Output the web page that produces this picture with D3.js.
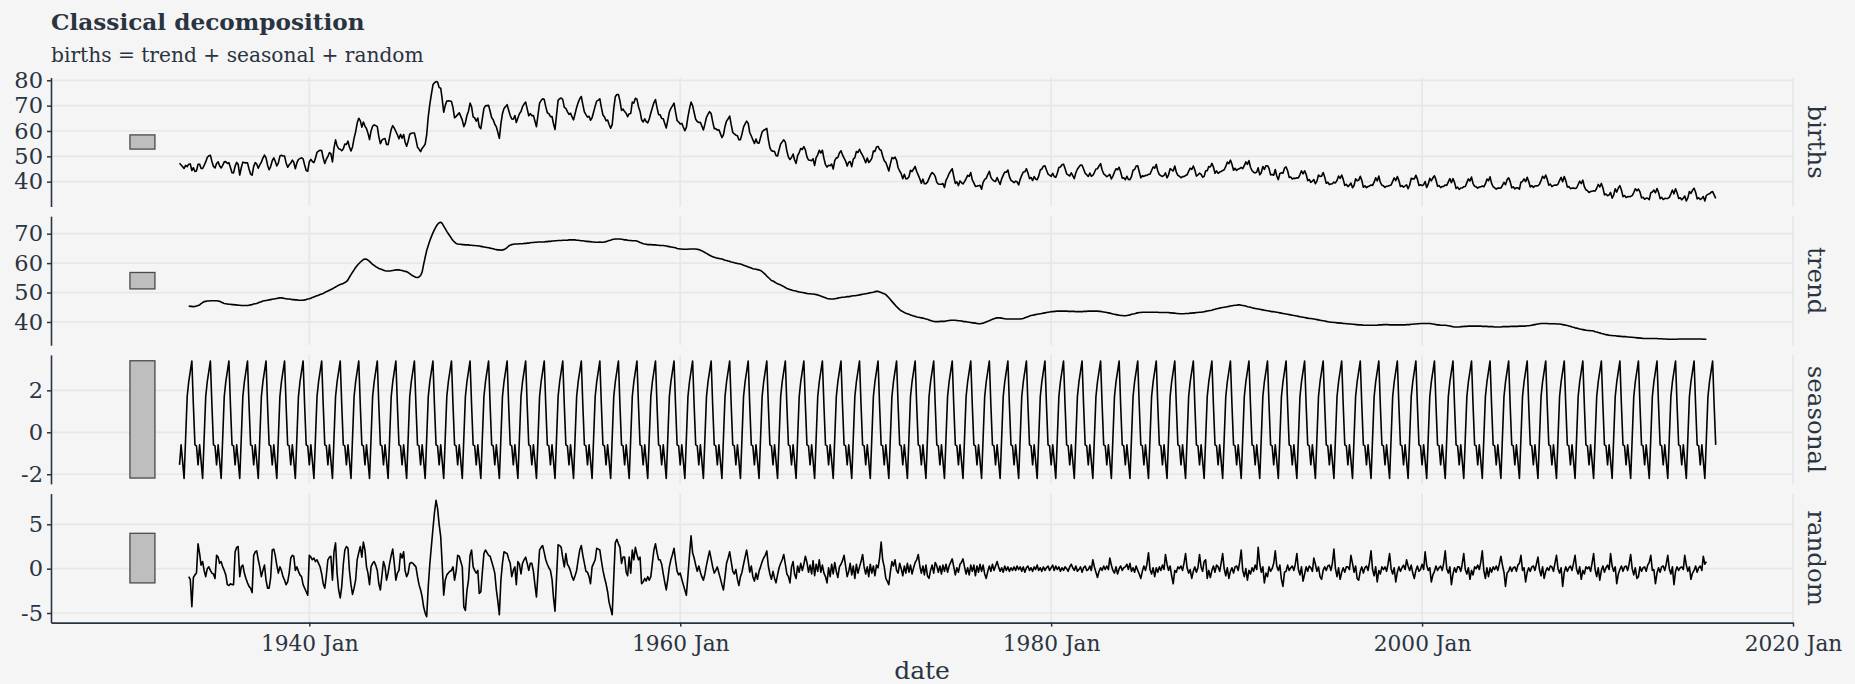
<!DOCTYPE html>
<html>
<head>
<meta charset="utf-8">
<script src="https://cdn.jsdelivr.net/npm/d3@7"></script>
<style>
  html, body { margin: 0; padding: 0; background: #f5f5f5; }
  svg { display: block; font-family: "DejaVu Serif", serif; }
</style>
</head>
<body>
<svg id="svg" width="1855" height="684"></svg>
<script>
// monthly series start Jan 1933, last month Nov 2015
const firstYear = 1933;
const monthCount = 995;

// seasonal component, Jan..Dec (repeats every year)
const seasonalMonths = [-1.55, -0.6, -1.35, -2.2, -0.3, 1.7, 2.4, 2.9, 3.4, 1.3, -0.6, -0.65];

// trend, Jul 1933 .. May 2015 (one row per year)
const trendRows = [
  [45.4,45.3,45.3,45.2,45.3,45.4],
  [45.6,45.8,46.2,46.6,46.9,47.0,47.1,47.1,47.2,47.2,47.2,47.2],
  [47.2,47.1,47.0,46.8,46.5,46.3,46.2,46.1,46.0,46.0,45.9,45.9],
  [45.8,45.8,45.7,45.7,45.6,45.6,45.6,45.6,45.6,45.7,45.8,45.9],
  [46.1,46.2,46.3,46.5,46.7,46.9,47.1,47.2,47.3,47.4,47.5,47.6],
  [47.7,47.8,47.9,48.0,48.1,48.2,48.2,48.1,48.0,47.9,47.8,47.8],
  [47.7,47.6,47.6,47.5,47.5,47.4,47.4,47.4,47.4,47.5,47.6,47.8],
  [47.9,48.1,48.3,48.5,48.7,48.9,49.1,49.3,49.5,49.7,50.0,50.3],
  [50.5,50.8,51.0,51.3,51.6,51.9,52.2,52.5,52.7,52.9,53.1,53.4],
  [53.7,54.3,55.2,56.1,56.9,57.7,58.5,59.2,59.8,60.3,60.8,61.2],
  [61.4,61.3,61.0,60.6,60.1,59.6,59.2,58.8,58.5,58.2,58.0,57.8],
  [57.6,57.4,57.3,57.3,57.3,57.4,57.5,57.6,57.7,57.7,57.7,57.6],
  [57.5,57.3,57.2,57.1,56.8,56.4,56.0,55.7,55.4,55.2,55.1,55.3],
  [55.8,57.0,59.5,62.0,64.3,66.0,67.6,69.0,70.3,71.4,72.4,73.2],
  [73.7,73.9,73.5,72.6,71.7,70.8,70.0,69.2,68.4,67.7,67.1,66.7],
  [66.5,66.4,66.4,66.3,66.3,66.2,66.2,66.2,66.1,66.1,66.0,66.0],
  [65.9,65.9,65.8,65.7,65.6,65.5,65.4,65.3,65.2,65.1,65.0,64.9],
  [64.7,64.6,64.5,64.5,64.4,64.5,64.6,64.9,65.3,65.8,66.1,66.3],
  [66.4,66.5,66.5,66.5,66.6,66.6,66.6,66.7,66.7,66.8,66.8,66.9],
  [67.0,67.0,67.1,67.1,67.2,67.2,67.2,67.2,67.2,67.3,67.3,67.4],
  [67.4,67.5,67.5,67.6,67.6,67.7,67.7,67.7,67.8,67.8,67.8,67.8],
  [67.9,67.9,67.9,67.9,67.9,67.8,67.8,67.7,67.6,67.6,67.5,67.4],
  [67.4,67.3,67.3,67.2,67.2,67.1,67.1,67.1,67.2,67.1,67.1,67.2],
  [67.3,67.5,67.7,67.8,68.0,68.1,68.2,68.2,68.2,68.2,68.1,68.0],
  [67.9,67.9,67.8,67.7,67.7,67.6,67.6,67.6,67.5,67.3,67.0,66.8],
  [66.6,66.5,66.4,66.3,66.3,66.3,66.2,66.2,66.2,66.1,66.1,66.0],
  [66.0,66.0,65.9,65.8,65.7,65.6,65.5,65.4,65.3,65.2,65.0,64.9],
  [64.8,64.8,64.7,64.7,64.7,64.7,64.8,64.8,64.8,64.8,64.8,64.7],
  [64.6,64.4,64.2,63.9,63.6,63.3,63.0,62.7,62.4,62.2,62.0,61.8],
  [61.7,61.6,61.5,61.4,61.2,61.0,60.9,60.7,60.6,60.4,60.3,60.1],
  [60.0,59.9,59.8,59.7,59.5,59.3,59.1,58.9,58.7,58.5,58.3,58.1],
  [58.0,57.9,57.8,57.7,57.5,57.1,56.7,56.2,55.6,55.1,54.6,54.1],
  [53.9,53.6,53.3,53.0,52.8,52.6,52.3,52.0,51.7,51.4,51.2,51.0],
  [50.9,50.7,50.6,50.5,50.3,50.2,50.1,50.0,49.9,49.8,49.7,49.6],
  [49.6,49.5,49.5,49.4,49.3,49.2,49.0,48.8,48.6,48.4,48.2,48.0],
  [47.9,47.8,47.8,47.8,47.9,48.0,48.1,48.2,48.3,48.4,48.4,48.5],
  [48.6,48.6,48.7,48.8,48.9,48.9,49.0,49.1,49.2,49.3,49.4,49.5],
  [49.6,49.7,49.8,49.9,50.0,50.1,50.3,50.4,50.4,50.2,50.0,49.8],
  [49.6,49.3,48.8,48.2,47.6,47.0,46.4,45.8,45.2,44.7,44.2,43.8],
  [43.5,43.2,43.0,42.8,42.6,42.4,42.2,42.0,41.9,41.7,41.6,41.5],
  [41.4,41.3,41.2,41.0,40.9,40.7,40.5,40.3,40.2,40.1,40.1,40.1],
  [40.2,40.2,40.2,40.2,40.3,40.4,40.5,40.6,40.6,40.6,40.6,40.5],
  [40.4,40.4,40.3,40.2,40.1,40.1,40.0,39.9,39.8,39.7,39.7,39.6],
  [39.5,39.4,39.4,39.5,39.6,39.8,40.0,40.2,40.4,40.7,40.9,41.1],
  [41.3,41.4,41.4,41.4,41.3,41.2,41.1,41.0,41.0,41.0,41.0,41.0],
  [41.0,41.0,41.0,41.0,41.0,41.1,41.2,41.4,41.6,41.8,42.0,42.2],
  [42.3,42.4,42.5,42.6,42.7,42.8,42.9,43.0,43.1,43.2,43.3,43.4],
  [43.5,43.5,43.6,43.6,43.7,43.7,43.7,43.7,43.7,43.7,43.7,43.6],
  [43.6,43.6,43.6,43.6,43.5,43.5,43.5,43.5,43.5,43.6,43.6,43.6],
  [43.7,43.7,43.7,43.7,43.7,43.7,43.7,43.6,43.6,43.5,43.4,43.3],
  [43.2,43.1,43.0,42.9,42.7,42.6,42.5,42.4,42.3,42.2,42.2,42.1],
  [42.1,42.2,42.3,42.4,42.6,42.7,42.8,43.0,43.1,43.2,43.2,43.3],
  [43.3,43.3,43.3,43.3,43.3,43.3,43.3,43.3,43.3,43.3,43.2,43.2],
  [43.2,43.2,43.2,43.2,43.2,43.1,43.1,43.0,43.0,42.9,42.9,42.8],
  [42.8,42.8,42.8,42.9,42.9,42.9,43.0,43.0,43.1,43.1,43.2,43.2],
  [43.3,43.3,43.4,43.5,43.6,43.7,43.8,43.9,44.0,44.2,44.3,44.5],
  [44.6,44.7,44.8,44.9,45.0,45.1,45.2,45.3,45.4,45.5,45.6,45.7],
  [45.7,45.8,45.8,45.7,45.6,45.5,45.4,45.2,45.1,45.0,44.8,44.7],
  [44.6,44.5,44.4,44.3,44.2,44.1,44.0,43.9,43.8,43.7,43.6,43.5],
  [43.5,43.4,43.3,43.2,43.1,43.0,42.9,42.8,42.7,42.6,42.5,42.4],
  [42.3,42.2,42.1,42.0,41.9,41.8,41.7,41.6,41.5,41.4,41.3,41.2],
  [41.2,41.1,41.0,40.9,40.8,40.7,40.6,40.5,40.4,40.3,40.2,40.1],
  [40.0,39.9,39.9,39.8,39.8,39.7,39.7,39.6,39.6,39.5,39.5,39.4],
  [39.4,39.3,39.3,39.2,39.2,39.1,39.1,39.0,39.0,39.0,38.9,38.9],
  [38.9,38.9,38.9,38.9,38.9,38.9,38.9,38.9,39.0,39.0,39.0,39.1],
  [39.1,39.1,39.1,39.0,39.0,39.0,39.0,39.0,39.0,39.0,39.0,39.0],
  [39.0,39.0,39.1,39.1,39.1,39.2,39.2,39.3,39.3,39.4,39.4,39.5],
  [39.5,39.5,39.5,39.5,39.5,39.5,39.4,39.3,39.2,39.1,39.0,39.0],
  [38.9,38.9,38.9,38.9,38.8,38.7,38.6,38.5,38.4,38.3,38.3,38.3],
  [38.3,38.4,38.4,38.5,38.5,38.5,38.6,38.6,38.6,38.6,38.6,38.6],
  [38.6,38.6,38.6,38.5,38.5,38.5,38.5,38.4,38.4,38.4,38.4,38.3],
  [38.3,38.3,38.3,38.3,38.4,38.4,38.4,38.4,38.4,38.5,38.5,38.5],
  [38.5,38.5,38.5,38.6,38.6,38.6,38.6,38.6,38.7,38.7,38.8,38.9],
  [39.0,39.1,39.2,39.3,39.4,39.5,39.5,39.5,39.5,39.5,39.4,39.4],
  [39.4,39.4,39.4,39.3,39.3,39.3,39.2,39.1,39.0,38.9,38.8,38.6],
  [38.5,38.3,38.2,38.0,37.9,37.8,37.6,37.5,37.4,37.3,37.2,37.1],
  [37.1,37.0,37.0,36.9,36.7,36.6,36.4,36.3,36.1,36.0,35.8,35.7],
  [35.6,35.5,35.4,35.4,35.3,35.3,35.2,35.2,35.1,35.1,35.0,35.0],
  [35.0,34.9,34.9,34.8,34.8,34.7,34.7,34.6,34.6,34.5,34.5,34.4],
  [34.4,34.4,34.4,34.4,34.4,34.4,34.4,34.4,34.4,34.3,34.3,34.3],
  [34.2,34.2,34.2,34.1,34.1,34.1,34.1,34.1,34.1,34.1,34.2,34.2],
  [34.2,34.2,34.2,34.2,34.2,34.2,34.2,34.2,34.2,34.2,34.2,34.2],
  [34.2,34.2,34.1,34.1,34.1]
];

// random component, same months as the trend
const randomRows = [
  [-0.9,-1.2,-4.3,-1.0,-0.7,-0.5],
  [2.8,1.7,0.4,0.8,-0.2,-0.9,0.0,0.2,-0.2,-0.5,-0.6,-1.1],
  [1.5,1.3,0.6,0.8,0.2,-0.2,-0.7,-1.8,-1.9,-1.7,-1.8,-1.8],
  [1.9,2.4,2.5,-0.9,0.2,0.4,-0.5,-1.1,-1.6,-2.0,-2.2,-2.7],
  [1.5,1.9,2.0,1.0,0.2,-0.9,-0.2,0.4,-1.3,-2.2,-2.2,-1.0],
  [2.1,2.2,1.5,0.4,-0.5,0.2,-0.2,-0.9,-1.3,-1.8,-1.5,-0.5],
  [1.2,1.5,1.4,-0.2,0.2,-0.3,-0.7,-0.9,-1.8,-2.2,-2.6,-3.0],
  [1.5,1.3,1.0,1.2,0.8,1.0,0.6,0.2,-0.6,-1.7,-2.2,-0.8],
  [1.0,1.3,1.4,-1.3,1.9,2.9,-0.5,-2.4,-3.3,-2.0,0.5,2.1],
  [2.5,2.3,-0.2,-1.8,-2.9,-2.2,-1.3,1.0,1.8,2.5,1.3,3.0],
  [2.1,0.2,-0.5,-1.8,0.2,0.6,0.8,0.4,-0.2,-1.7,-2.4,-0.8],
  [0.8,0.2,-1.3,-0.5,0.6,1.5,2.2,0.6,-1.3,-0.5,-0.2,1.7],
  [1.2,1.9,-0.2,-0.9,-0.5,0.6,0.7,0.6,0.4,0.2,-0.9,-1.8],
  [-2.4,-3.2,-4.3,-5.0,-5.4,-2.0,0.5,2.5,4.5,6.3,7.7,6.8],
  [5.0,3.6,0.6,-3.0,-1.3,-0.7,-0.5,-0.3,-0.2,0.2,-1.3,-0.3],
  [1.5,1.4,0.8,0.2,-4.3,-4.7,-2.5,-1.3,1.5,2.1,0.2,-0.2],
  [-0.5,-0.2,-2.8,-2.6,-0.4,1.7,2.1,1.8,1.5,1.4,0.8,0.2],
  [-0.5,-2.4,-3.6,-5.2,-1.3,0.6,1.9,1.8,1.7,1.1,0.6,-0.9],
  [-0.2,0.2,-1.8,0.8,0.5,-0.6,0.6,1.0,1.3,0.6,-0.2,0.6],
  [0.6,-0.3,-1.8,-3.2,-0.5,2.1,2.4,2.6,1.8,1.0,0.5,0.1],
  [-0.2,-1.2,-3.2,-4.8,-1.0,2.7,2.6,2.4,1.2,0.2,1.7,0.5],
  [0.2,-0.3,-0.9,-1.3,-0.8,-0.2,1.0,2.1,2.6,1.5,0.6,-0.3],
  [-0.4,-0.9,-1.7,0.2,0.6,1.0,2.3,2.2,2.1,0.9,-0.2,-1.0],
  [-1.7,-2.6,-3.8,-4.5,-5.2,-1.0,2.9,3.3,2.8,2.4,0.6,1.3],
  [1.3,-0.4,-0.8,1.3,-0.5,2.1,1.0,2.4,1.6,1.0,1.3,-1.7],
  [-1.5,-1.1,-1.4,-0.9,-1.3,-0.9,0.6,2.1,2.8,1.8,1.0,1.0],
  [0.5,-0.6,-1.5,-2.4,-1.2,0.2,1.0,1.6,2.3,0.9,-0.3,-0.7],
  [-0.5,-1.2,-1.8,-2.4,-3.0,-0.8,1.5,3.7,1.8,1.2,0.4,-0.3],
  [0.3,-0.4,-0.9,-1.3,-0.6,0.4,1.2,2.0,1.1,0.2,-0.5,-0.2],
  [0.2,-0.5,-1.1,-1.8,-2.4,-0.9,0.6,1.2,1.9,0.8,-0.3,-0.6],
  [-0.1,-1.2,-1.9,-0.9,-0.4,0.5,1.3,2.1,0.9,-0.4,0.3,-0.9],
  [-1.4,-0.5,-1.2,-0.3,0.2,0.8,1.2,1.5,2.0,0.3,-0.6,-1.2],
  [-0.3,-1.1,-1.6,-0.7,0.1,0.6,1.0,1.6,0.5,-0.6,-0.9,-1.6],
  [0.2,0.8,-0.6,-1.1,0.3,-0.4,0.6,-0.2,0.5,1.4,0.7,-0.4],
  [0.4,-0.6,0.9,-0.8,0.5,-0.3,1.0,-0.4,0.4,-0.5,-0.9,-1.6],
  [0.1,-0.9,0.5,-0.6,0.7,-0.3,-1.0,0.2,0.5,0.9,1.5,0.3],
  [-0.9,-0.3,0.6,-0.7,0.3,-1.1,0.5,-0.5,0.2,0.8,1.6,0.2],
  [-0.6,0.2,-0.9,0.5,-0.5,0.3,-0.8,0.4,0.1,1.2,3.0,1.0],
  [0.2,-1.1,-1.4,-1.8,-0.4,0.8,0.3,1.0,-0.2,-0.5,0.6,0.0],
  [-0.8,0.3,-0.5,0.6,-0.4,0.4,-0.6,0.1,0.7,1.0,1.6,0.3],
  [-0.5,0.3,-0.7,0.4,-0.8,-1.1,-0.2,0.4,-0.5,0.7,0.3,-0.4],
  [0.3,-0.6,0.4,-0.3,0.5,-0.4,0.3,0.7,1.1,0.2,-0.7,0.1],
  [-0.4,0.5,0.7,1.1,0.2,-0.6,0.1,-0.7,0.4,-0.3,0.4,-0.8],
  [0.3,-0.4,0.5,-0.3,0.4,-0.6,-1.1,-0.3,0.3,-0.3,0.5,-0.2],
  [0.3,0.8,0.2,-0.3,0.1,-0.4,0.3,-0.2,0.2,-0.3,0.1,-0.2],
  [0.2,-0.2,0.3,-0.1,0.2,-0.3,0.2,-0.4,0.1,0.3,-0.2,0.1],
  [-0.3,0.2,-0.1,0.4,-0.2,0.1,-0.3,0.2,-0.2,0.1,0.3,-0.2],
  [0.1,0.4,-0.2,0.3,-0.1,0.2,-0.3,0.1,-0.2,0.2,0.0,-0.3],
  [0.2,0.5,0.1,-0.2,0.3,-0.3,-0.1,0.2,-0.4,0.1,0.3,-0.2],
  [-0.1,0.3,-0.2,1.0,0.2,-0.4,-1.0,-0.3,0.1,-0.2,0.3,-0.1],
  [0.3,-0.1,1.2,0.4,-0.2,-0.5,0.2,-0.6,0.0,0.3,-0.2,0.1],
  [0.2,0.5,-0.1,0.6,-0.3,0.1,-0.4,0.3,-0.2,-0.6,-1.1,-0.3],
  [0.3,-0.2,0.5,1.8,-0.1,-0.6,0.1,-0.9,0.1,-0.4,0.2,-0.2],
  [0.4,-0.1,1.6,0.5,-0.2,0.3,-0.8,-1.7,-0.2,-0.4,0.2,0.0],
  [0.3,-0.2,0.6,1.7,0.1,-0.5,-0.1,-1.1,-0.3,0.2,-0.4,0.1],
  [1.6,0.2,-0.3,0.8,1.0,-1.1,-0.2,-1.0,-0.2,0.3,-0.4,0.4],
  [0.2,-0.3,0.6,1.7,0.0,-0.8,0.1,-1.1,-0.3,0.1,-0.5,0.2],
  [0.3,-0.2,0.7,2.1,-0.2,-0.9,0.0,-1.3,-0.2,-0.6,0.1,-0.3],
  [0.4,-0.1,2.4,0.6,-0.4,0.2,-1.6,-0.5,-0.9,0.2,-0.3,0.0],
  [0.6,2.0,0.3,-0.2,0.4,-1.2,-2.0,-0.4,-0.3,0.4,-0.2,0.1],
  [0.3,-0.2,0.5,1.7,-0.1,-0.7,0.2,-1.4,-0.6,0.2,-0.3,0.3],
  [0.1,-0.3,1.2,0.5,-0.3,0.2,-0.9,-1.2,-0.2,0.2,-0.2,0.3],
  [0.4,-0.2,0.6,2.2,0.0,-0.9,0.1,-1.2,-0.4,0.1,-0.4,0.2],
  [0.2,-0.1,1.5,0.6,-0.4,0.3,-1.1,-1.3,-0.3,0.2,-0.5,0.1],
  [0.3,-0.2,0.7,2.0,-0.1,-0.8,0.2,-1.5,-0.2,-0.6,0.2,-0.1],
  [0.2,-0.3,0.5,1.7,0.0,-0.6,0.1,-1.5,-0.4,0.2,-0.3,0.1],
  [0.4,-0.1,1.0,0.3,-0.2,0.4,-0.5,-1.1,-0.2,0.3,-0.3,-0.1],
  [0.5,-0.1,1.9,0.4,-0.2,0.1,-1.5,-0.7,-0.3,0.3,-0.2,0.1],
  [0.3,-0.2,0.6,2.0,0.0,-0.5,0.2,-1.8,-0.6,0.1,-0.4,0.2],
  [0.2,-0.3,0.5,1.7,-0.1,-0.6,0.1,-1.2,-0.2,-0.7,0.2,0.0],
  [0.4,-0.1,0.7,2.0,-0.2,-1.1,0.1,-0.9,0.1,-0.4,0.2,-0.1],
  [0.3,-0.2,0.5,1.4,0.4,-0.4,-2.0,-0.5,-0.3,0.2,-0.3,0.1],
  [0.2,-0.3,0.4,0.6,1.5,-0.2,0.1,-1.5,-0.4,0.1,-0.3,0.2],
  [0.3,-0.2,0.5,1.3,-0.1,-0.8,0.2,-1.1,-0.3,0.1,-0.2,0.3],
  [0.2,-0.3,0.6,1.5,0.0,-0.5,0.1,-2.0,-0.4,0.2,-0.3,0.1],
  [0.3,-0.2,0.6,1.5,-0.1,-0.6,0.2,-1.2,-0.2,-0.6,0.2,0.0],
  [0.2,-0.3,0.6,1.7,-0.1,-0.9,0.1,-1.3,-0.2,0.3,-0.4,0.1],
  [0.4,-0.1,1.7,0.3,-0.3,0.2,-1.7,-0.6,-0.1,0.3,-0.3,0.2],
  [0.3,-0.2,0.5,1.6,0.0,-0.7,0.1,-1.1,-0.9,0.2,-0.3,0.1],
  [0.2,-0.3,0.4,0.7,1.5,-0.2,-0.1,-1.7,-0.5,0.1,-0.4,0.2],
  [0.3,-0.2,0.5,1.5,0.0,-0.6,0.2,-1.8,-0.3,0.2,-0.2,0.1],
  [0.2,-0.1,1.5,0.4,-0.3,0.2,-1.2,-0.5,-0.2,0.3,-0.4,0.1],
  [0.3,-0.2,1.4,0.5,0.8]
];

// observed births where the centred trend is not defined
const birthsFirst = [47.3, 46.6, 46.0, 45.2, 46.4, 45.9];   // Jan-Jun 1933
const birthsLast = [35.0, 35.2, 35.8, 36.1, 34.8, 33.4];    // Jun-Nov 2015

const panelKeys = ["births", "trend", "seasonal", "random"];
const yTicks = {
  births: [40, 50, 60, 70, 80],
  trend: [40, 50, 60, 70],
  seasonal: [-2, 0, 2],
  random: [-5, 0, 5]
};
const yDomains = {
  births: [30.2, 81.1],
  trend: [32.1, 75.95],
  seasonal: [-2.46, 3.69],
  random: [-6.08, 8.46]
};
const xTickYears = [1940, 1960, 1980, 2000, 2020];

// ---------------------------------------------------------------

const trend = trendRows.flat();
const random = randomRows.flat();
const offset = 6; // centred moving average loses 6 months at each end

const rows = d3.range(monthCount).map(i => {
  const k = i - offset;
  const t = (k >= 0 && k < trend.length) ? trend[k] : null;
  const s = seasonalMonths[i % 12];
  const r = t === null ? null : random[k];
  let b;
  if (t !== null) b = t + s + r;
  else if (i < offset) b = birthsFirst[i];
  else b = birthsLast[i - offset - trend.length];
  return { date: new Date(firstYear, i, 1), births: b, trend: t, seasonal: s, random: r };
});

const svg = d3.select("#svg");
const ink = "#2a3441";
const grid = "#e7e7e7";
const left = 51, right = 1793;
const top0 = 77.5, panelH = 129, gap = 9.7;

const x = d3.scaleTime()
  .domain([new Date(1926, 0, 27), new Date(2020, 0, 1)])
  .range([left, right]);

// every scale bar has the height of the smallest data range
const spans = panelKeys.map(k => (yDomains[k][1] - yDomains[k][0]) / 1.1);
const barSpan = d3.min(spans);
const barFrom = new Date(1930, 4, 1), barTo = new Date(1931, 8, 5);

panelKeys.forEach((key, i) => {
  const top = top0 + i * (panelH + gap);
  const y = d3.scaleLinear().domain(yDomains[key]).range([top + panelH, top]);
  const g = svg.append("g");

  g.selectAll(".hgrid").data(yTicks[key]).enter().append("line")
    .attr("x1", left).attr("x2", right)
    .attr("y1", d => y(d)).attr("y2", d => y(d))
    .attr("stroke", grid).attr("stroke-width", 1.7);

  g.selectAll(".vgrid").data(xTickYears).enter().append("line")
    .attr("x1", d => x(new Date(d, 0, 1))).attr("x2", d => x(new Date(d, 0, 1)))
    .attr("y1", top).attr("y2", top + panelH)
    .attr("stroke", grid).attr("stroke-width", 1.7);

  const mid = (yDomains[key][0] + yDomains[key][1]) / 2;
  g.append("rect")
    .attr("x", x(barFrom)).attr("width", x(barTo) - x(barFrom))
    .attr("y", y(mid + barSpan / 2)).attr("height", y(mid - barSpan / 2) - y(mid + barSpan / 2))
    .attr("fill", "#bebebe").attr("stroke", "#4a4a4a").attr("stroke-width", 1.3);

  const line = d3.line()
    .defined(d => d[key] !== null)
    .x(d => x(d.date))
    .y(d => y(d[key]));

  g.append("path").datum(rows)
    .attr("fill", "none")
    .attr("stroke", "#000")
    .attr("stroke-width", 1.6)
    .attr("stroke-linejoin", "round")
    .attr("d", line);

  const ax = g.append("g")
    .attr("transform", `translate(${left},0)`)
    .call(d3.axisLeft(y).tickValues(yTicks[key]).tickFormat(d => String(d))
      .tickSize(4).tickSizeOuter(0).tickPadding(4));
  ax.select(".domain").attr("stroke", ink).attr("stroke-width", 1.6);
  ax.selectAll(".tick line").attr("stroke", ink).attr("stroke-width", 1.5);
  ax.selectAll(".tick text")
    .attr("fill", ink).attr("font-family", "DejaVu Serif").attr("font-size", 22.5);

  svg.append("text")
    .attr("transform", `translate(1816,${top + panelH / 2}) rotate(90)`)
    .attr("text-anchor", "middle")
    .attr("dominant-baseline", "central")
    .attr("fill", ink)
    .attr("font-size", 24.5)
    .text(key);

  if (i === panelKeys.length - 1) {
    const bx = svg.append("g")
      .attr("transform", `translate(0,${top + panelH})`)
      .call(d3.axisBottom(x)
        .tickValues(xTickYears.map(yr => new Date(yr, 0, 1)))
        .tickFormat(d => d.getFullYear() + " Jan")
        .tickSize(4).tickSizeOuter(0).tickPadding(9));
    bx.select(".domain").attr("stroke", ink).attr("stroke-width", 1.6);
    bx.selectAll(".tick line").attr("stroke", ink).attr("stroke-width", 1.5);
    bx.selectAll(".tick text")
      .attr("fill", ink).attr("font-family", "DejaVu Serif").attr("font-size", 21.7);
  }
});

svg.append("text")
  .attr("x", (left + right) / 2).attr("y", 679)
  .attr("text-anchor", "middle")
  .attr("fill", ink).attr("font-size", 25)
  .text("date");

svg.append("text")
  .attr("x", left).attr("y", 30)
  .attr("fill", ink).attr("font-size", 23.2).attr("font-weight", "bold")
  .text("Classical decomposition");

svg.append("text")
  .attr("x", left).attr("y", 62)
  .attr("fill", ink).attr("font-size", 20.2)
  .text("births = trend + seasonal + random");
</script>
</body>
</html>
